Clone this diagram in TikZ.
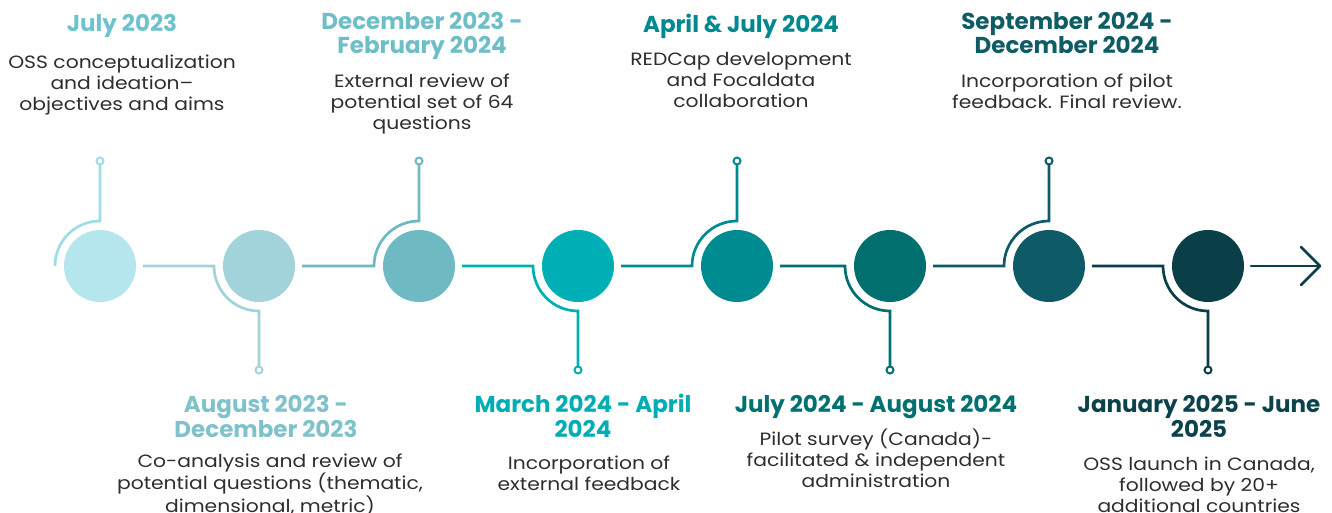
\documentclass[tikz,border=0pt]{standalone}
\usepackage{fontspec}
\setmainfont{Poppins}
\newfontfamily\bodyfont[FakeStretch=1.14]{Poppins}
\definecolor{k1}{HTML}{B5E6EE}
\definecolor{k2}{HTML}{A2D3DA}
\definecolor{k3}{HTML}{6FB9C3}
\definecolor{k4}{HTML}{00AFB6}
\definecolor{k5}{HTML}{008B90}
\definecolor{k6}{HTML}{006F6E}
\definecolor{k7}{HTML}{0E5A66}
\definecolor{k8}{HTML}{0B3F48}
\definecolor{l1}{HTML}{9FDCE6}
\definecolor{t1}{HTML}{6CC3CF}
\definecolor{t2}{HTML}{80C2CA}
\definecolor{t3}{HTML}{6DBEC7}
\definecolor{t4}{HTML}{00ADB4}
\definecolor{t5}{HTML}{00888E}
\definecolor{t6}{HTML}{00716F}
\definecolor{t7}{HTML}{0F5C64}
\definecolor{t8}{HTML}{0C434B}
\definecolor{body}{HTML}{2E2E2E}
\tikzset{
  dot/.style={circle, inner sep=0pt, outer sep=0pt, minimum size=72pt},
  pin/.style={circle, draw, fill=white, line width=2pt, inner sep=0pt, outer sep=0pt, minimum size=7pt},
  wire/.style={line width=2.7pt},
  ttl/.style={font=\fontsize{23}{24.5}\selectfont\bfseries, align=center, inner sep=0pt, anchor=base},
  txt/.style={font=\bodyfont\fontsize{17.8}{21}\selectfont, align=center, inner sep=0pt, anchor=base, text=body},
}
\begin{document}
\begin{tikzpicture}[x=1pt,y=1pt]
\useasboundingbox (0,0) rectangle (1332,512);
% circles
\node[dot, fill=k1] (c1) at (100,246) {};
\node[dot, fill=k2] (c2) at (259,246) {};
\node[dot, fill=k3] (c3) at (419,246) {};
\node[dot, fill=k4] (c4) at (578,246) {};
\node[dot, fill=k5] (c5) at (737,246) {};
\node[dot, fill=k6] (c6) at (890,246) {};
\node[dot, fill=k7] (c7) at (1049,246) {};
\node[dot, fill=k8] (c8) at (1208,246) {};
% pins
\node[pin, draw=l1] (p1) at (100,351) {};
\node[pin, draw=k2] (p2) at (259,142) {};
\node[pin, draw=k3] (p3) at (419,351) {};
\node[pin, draw=k4] (p4) at (578,142) {};
\node[pin, draw=k5] (p5) at (737,351) {};
\node[pin, draw=k6] (p6) at (890,142) {};
\node[pin, draw=k7] (p7) at (1049,351) {};
\node[pin, draw=k8] (p8) at (1208,142) {};
% wires
\draw[wire, l1] ([xshift=-45pt]c1.center) arc[start angle=180, end angle=90, radius=45] -- (p1);
\draw[wire, k2] ([xshift=7pt]c1.east) -- ([xshift=-45pt]c2.center) arc[start angle=180, end angle=270, radius=45] -- (p2);
\draw[wire, k3] ([xshift=7pt]c2.east) -- ([xshift=-45pt]c3.center) arc[start angle=180, end angle=90, radius=45] -- (p3);
\draw[wire, k4] ([xshift=7pt]c3.east) -- ([xshift=-45pt]c4.center) arc[start angle=180, end angle=270, radius=45] -- (p4);
\draw[wire, k5] ([xshift=7pt]c4.east) -- ([xshift=-45pt]c5.center) arc[start angle=180, end angle=90, radius=45] -- (p5);
\draw[wire, k6] ([xshift=7pt]c5.east) -- ([xshift=-45pt]c6.center) arc[start angle=180, end angle=270, radius=45] -- (p6);
\draw[wire, k7] ([xshift=7pt]c6.east) -- ([xshift=-45pt]c7.center) arc[start angle=180, end angle=90, radius=45] -- (p7);
\draw[wire, k8] ([xshift=7pt]c7.east) -- ([xshift=-45pt]c8.center) arc[start angle=180, end angle=270, radius=45] -- (p8);
% final arrow
\coordinate (tip) at (1320,246);
\draw[wire, k8, line cap=round] ([xshift=7pt]c8.east) -- (tip);
\draw[wire, k8, line cap=round, line join=round] (1301,265) -- (tip) -- (1301,227);
% labels top
\node[ttl, text=t1] (h1) at (122,480) {July 2023};
\node[txt] (b1) at (122,401) {OSS conceptualization\\and ideation–\\objectives and aims};
\node[ttl, text=t3] (h3) at (422,458) {December 2023 -\\February 2024};
\node[txt] (b3) at (422,382) {External review of\\potential set of 64\\questions};
\node[ttl, text=t5] (h5) at (741,479) {April \& July 2024};
\node[txt] (b5) at (741,404) {REDCap development\\and Focaldata\\collaboration};
\node[ttl, text=t7] (h7) at (1067,458) {September 2024 -\\December 2024};
\node[txt] (b7) at (1067,403) {Incorporation of pilot\\feedback. Final review.};
% labels bottom
\node[ttl, text=t2] (h2) at (266,75) {August 2023 -\\December 2023};
\node[txt] (b2) at (270,0) {Co-analysis and review of\\potential questions (thematic,\\dimensional, metric)};
\node[ttl, text=t4] (h4) at (583,75) {March 2024 - April\\2024};
\node[txt] (b4) at (589,22) {Incorporation of\\external feedback};
\node[ttl, text=t6] (h6) at (876,100) {July 2024 - August 2024};
\node[txt] (b6) at (876,25) {Pilot survey (Canada)-\\facilitated \& independent\\administration};
\node[ttl, text=t8] (h8) at (1199,75) {January 2025 - June\\2025};
\node[txt] (b8) at (1199,0) {OSS launch in Canada,\\followed by 20+\\additional countries};
\end{tikzpicture}
\end{document}
